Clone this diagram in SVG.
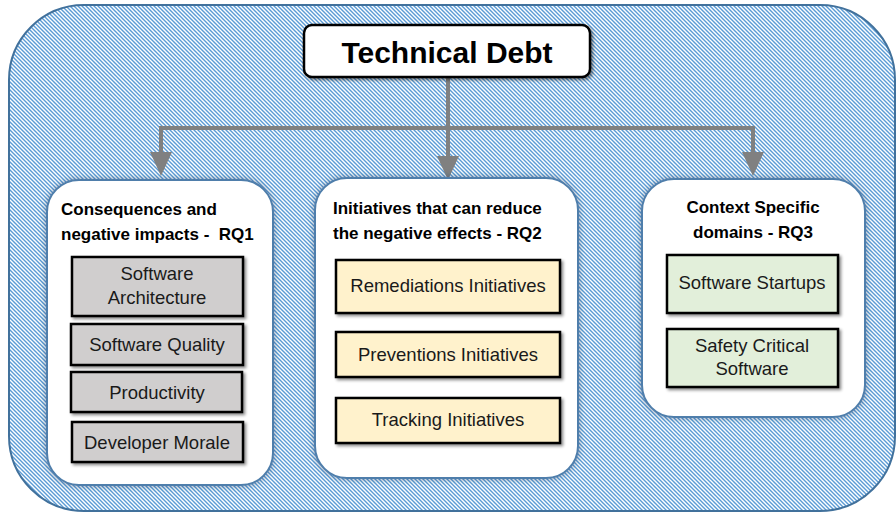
<svg xmlns="http://www.w3.org/2000/svg" width="896" height="514" viewBox="0 0 896 514">
<style>
.col{fill:#ffffff;stroke:#4f7eab;stroke-width:2;filter:url(#sh)}
.hd{font-family:"Liberation Sans",Arial,sans-serif;font-weight:bold;font-size:17px;fill:#000;white-space:pre}
.it{font-family:"Liberation Sans",Arial,sans-serif;font-size:18.5px;fill:#1a1a1a;text-anchor:middle}
.box{stroke:#000;stroke-width:2.5;filter:url(#sh2)}
.gray{fill:#d0cece}
.yel{fill:#fff2cc}
.grn{fill:#e2efda}
.conn{fill:none;stroke:#808080;stroke-width:4}
</style>
<defs>
<pattern id="stripes" patternUnits="userSpaceOnUse" width="4" height="4">
<rect width="4" height="4" fill="#ffffff"/>
<path d="M-1,-1 L5,5 M-1,3 L1,5 M3,-1 L5,1" stroke="#5b9bd5" stroke-width="1.4"/>
</pattern>
<filter id="sh" x="-10%" y="-10%" width="120%" height="120%">
<feDropShadow dx="0" dy="0" stdDeviation="3" flood-color="#1f3f66" flood-opacity="0.55"/>
</filter>
<filter id="sh2" x="-10%" y="-10%" width="120%" height="130%">
<feDropShadow dx="2" dy="2" stdDeviation="1.5" flood-color="#000" flood-opacity="0.45"/>
</filter>
</defs>

<g id="background">
<rect x="9" y="5" width="886" height="506" rx="75" ry="75" fill="url(#stripes)" stroke="#41719c" stroke-width="2"/>
</g>

<g id="connectors">
<line class="conn" x1="448" y1="77" x2="448" y2="128"/>
<polyline class="conn" points="161,128 753,128"/>
<line class="conn" x1="161" y1="126" x2="161" y2="152"/>
<line class="conn" x1="448" y1="128" x2="448" y2="156"/>
<line class="conn" x1="753" y1="126" x2="753" y2="152"/>
<path d="M150,152 L172,152 L161,176 Z" fill="#808080"/>
<path d="M437,156 L459,156 L448,180 Z" fill="#808080"/>
<path d="M742,152 L764,152 L753,176 Z" fill="#808080"/>
</g>

<g id="technical-debt">
<rect x="304" y="25" width="286" height="52" rx="8" ry="8" fill="#ffffff" stroke="#000" stroke-width="2.5" filter="url(#sh2)"/>
<text x="447" y="63" font-family="'Liberation Sans',Arial,sans-serif" font-weight="bold" font-size="30" text-anchor="middle" fill="#000">Technical Debt</text>
</g>

<g id="rq1">
<rect class="col" x="47" y="180" width="226" height="305" rx="32" ry="32"/>
<text class="hd" x="61" y="215">Consequences and</text>
<text class="hd" x="61" y="240" xml:space="preserve">negative impacts -  RQ1</text>
<g id="software-architecture">
<rect class="box gray" x="72" y="257" width="171" height="59"/>
<text class="it" x="157" y="280">Software</text>
<text class="it" x="157" y="304">Architecture</text>
</g>
<g id="software-quality">
<rect class="box gray" x="71" y="324" width="172" height="41"/>
<text class="it" x="157" y="351">Software Quality</text>
</g>
<g id="productivity">
<rect class="box gray" x="71" y="372" width="171" height="40"/>
<text class="it" x="157" y="399">Productivity</text>
</g>
<g id="developer-morale">
<rect class="box gray" x="72" y="422" width="171" height="40"/>
<text class="it" x="157" y="449">Developer Morale</text>
</g>
</g>

<g id="rq2">
<rect class="col" x="315" y="178" width="263" height="300" rx="32" ry="32"/>
<text class="hd" x="333" y="214">Initiatives that can reduce</text>
<text class="hd" x="333" y="239">the negative effects - RQ2</text>
<g id="remediations">
<rect class="box yel" x="336" y="260" width="224" height="53"/>
<text class="it" x="448" y="292">Remediations Initiatives</text>
</g>
<g id="preventions">
<rect class="box yel" x="336" y="332" width="224" height="45"/>
<text class="it" x="448" y="361">Preventions Initiatives</text>
</g>
<g id="tracking">
<rect class="box yel" x="336" y="398" width="224" height="45"/>
<text class="it" x="448" y="426">Tracking Initiatives</text>
</g>
</g>

<g id="rq3">
<rect class="col" x="642" y="179" width="223" height="238" rx="32" ry="32"/>
<text class="hd" x="753" y="213" text-anchor="middle">Context Specific</text>
<text class="hd" x="753" y="238" text-anchor="middle">domains - RQ3</text>
<g id="software-startups">
<rect class="box grn" x="667" y="255" width="171" height="58"/>
<text class="it" x="752" y="289">Software Startups</text>
</g>
<g id="safety-critical">
<rect class="box grn" x="667" y="329" width="171" height="58"/>
<text class="it" x="752" y="352">Safety Critical</text>
<text class="it" x="752" y="375">Software</text>
</g>
</g>
</svg>
